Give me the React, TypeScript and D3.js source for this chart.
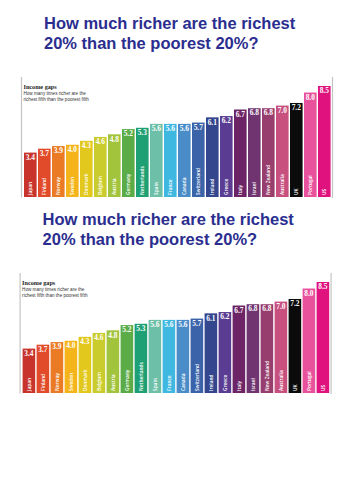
import React, { useEffect, useRef } from "react";
import * as d3 from "d3";

const titleLines = ["How much richer are the richest", "20% than the poorest 20%?"];
const chartHeading = "Income gaps";
const chartSubtitle = ["How many times richer are the", "richest fifth than the poorest fifth"];

const countries = [
  "Japan", "Finland", "Norway", "Sweden", "Denmark", "Belgium", "Austria",
  "Germany", "Netherlands", "Spain", "France", "Canada", "Switzerland",
  "Ireland", "Greece", "Italy", "Israel", "New Zealand", "Australia",
  "UK", "Portugal", "US",
];
const ratios = [
  3.4, 3.7, 3.9, 4.0, 4.3, 4.6, 4.8, 5.2, 5.3, 5.6, 5.6, 5.6, 5.7, 6.1, 6.2,
  6.7, 6.8, 6.8, 7.0, 7.2, 8.0, 8.5,
];
const barColors = [
  "#c8342b", "#e14b2a", "#ea7b24", "#f5b41a", "#e2c71c", "#c9cc2c", "#a2c33c",
  "#5bab47", "#1f9f74", "#6ebfa8", "#3fb8e1", "#4a8cc8", "#3a63a9", "#33468e",
  "#5a3d92", "#6c2466", "#703570", "#983e6e", "#c7507f", "#0b0b0b", "#e8519b",
  "#e0137e",
];

// the same graphic appears twice on the page
const panels = [
  { dx: 0, dy: 0 },
  { dx: -1.4, dy: 196 },
];

const App: React.FC = () => {
  const svgRef = useRef<SVGSVGElement | null>(null);

  useEffect(() => {
    if (!svgRef.current) return;
    const svg = d3.select(svgRef.current);
    svg.selectAll("*").remove();

    const data = countries.map((c, i) => ({ country: c, value: ratios[i], color: barColors[i] }));
    const fmt = d3.format(".1f");

    panels.forEach(({ dx, dy }) => {
      const g = svg.append("g").attr("transform", `translate(${dx}, ${dy})`);

      const x = d3
        .scaleBand<string>()
        .domain(countries)
        .range([24, 330.6])
        .paddingInner(0.1)
        .paddingOuter(0);

      const y = d3.scaleLinear().domain([0, 8.5]).range([197, 86]);

      // title
      g.append("text")
        .attr("x", 44)
        .attr("fill", "#2b2e8f")
        .style("font-family", "'Liberation Sans', Arial, sans-serif")
        .style("font-weight", "bold")
        .style("font-size", "16.5px")
        .selectAll("tspan")
        .data(titleLines)
        .enter()
        .append("tspan")
        .attr("x", 44)
        .attr("y", (_, i) => 29 + i * 20)
        .text((d) => d);

      // frame of the graphic
      g.append("line")
        .attr("x1", 21.5).attr("x2", 21.5)
        .attr("y1", 77).attr("y2", 197.5)
        .attr("stroke", "#c4c4c4").attr("stroke-width", 1.2);
      g.append("line")
        .attr("x1", 332.5).attr("x2", 332.5)
        .attr("y1", 77).attr("y2", 198)
        .attr("stroke", "#c4c4c4").attr("stroke-width", 1.2);

      // heading
      g.append("text")
        .attr("x", 23.5)
        .attr("y", 88.5)
        .attr("fill", "#222")
        .style("font-family", "'Liberation Serif', Georgia, serif")
        .style("font-weight", "bold")
        .style("font-size", "6.2px")
        .text(chartHeading);

      g.append("text")
        .attr("fill", "#333")
        .style("font-family", "'Liberation Sans', Arial, sans-serif")
        .style("font-size", "4.6px")
        .selectAll("tspan")
        .data(chartSubtitle)
        .enter()
        .append("tspan")
        .attr("x", 23.5)
        .attr("y", (_, i) => 95 + i * 5.6)
        .text((d) => d);

      // bars
      const bars = g.append("g");
      bars
        .selectAll("rect")
        .data(data)
        .enter()
        .append("rect")
        .attr("x", (d) => x(d.country) || 0)
        .attr("y", (d) => y(d.value))
        .attr("width", x.bandwidth())
        .attr("height", (d) => y(0) - y(d.value))
        .attr("fill", (d) => d.color);

      bars
        .selectAll("text.value")
        .data(data)
        .enter()
        .append("text")
        .attr("class", "value")
        .attr("x", (d) => (x(d.country) || 0) + x.bandwidth() / 2)
        .attr("y", (d) => y(d.value) + 7.2)
        .attr("text-anchor", "middle")
        .attr("fill", "#fff")
        .style("font-family", "'Liberation Serif', Georgia, serif")
        .style("font-weight", "bold")
        .style("font-size", "7.4px")
        .text((d) => fmt(d.value));

      bars
        .selectAll("text.country")
        .data(data)
        .enter()
        .append("text")
        .attr("class", "country")
        .attr("transform", (d) => {
          const cx = (x(d.country) || 0) + x.bandwidth() / 2 + 1.7;
          return `translate(${cx}, ${y(0) - 2}) rotate(-90)`;
        })
        .attr("fill", "#fff")
        .style("font-family", "'Open Sans', 'Liberation Sans', sans-serif")
        .style("font-weight", 600)
        .style("font-size", "4.8px")
        .text((d) => d.country);
    });
  }, []);

  return (
    <div style={{ position: "absolute", left: 0, top: 0, background: "#fff" }}>
      <svg ref={svgRef} width={353} height={500} style={{ display: "block" }} />
    </div>
  );
};

export default App;
